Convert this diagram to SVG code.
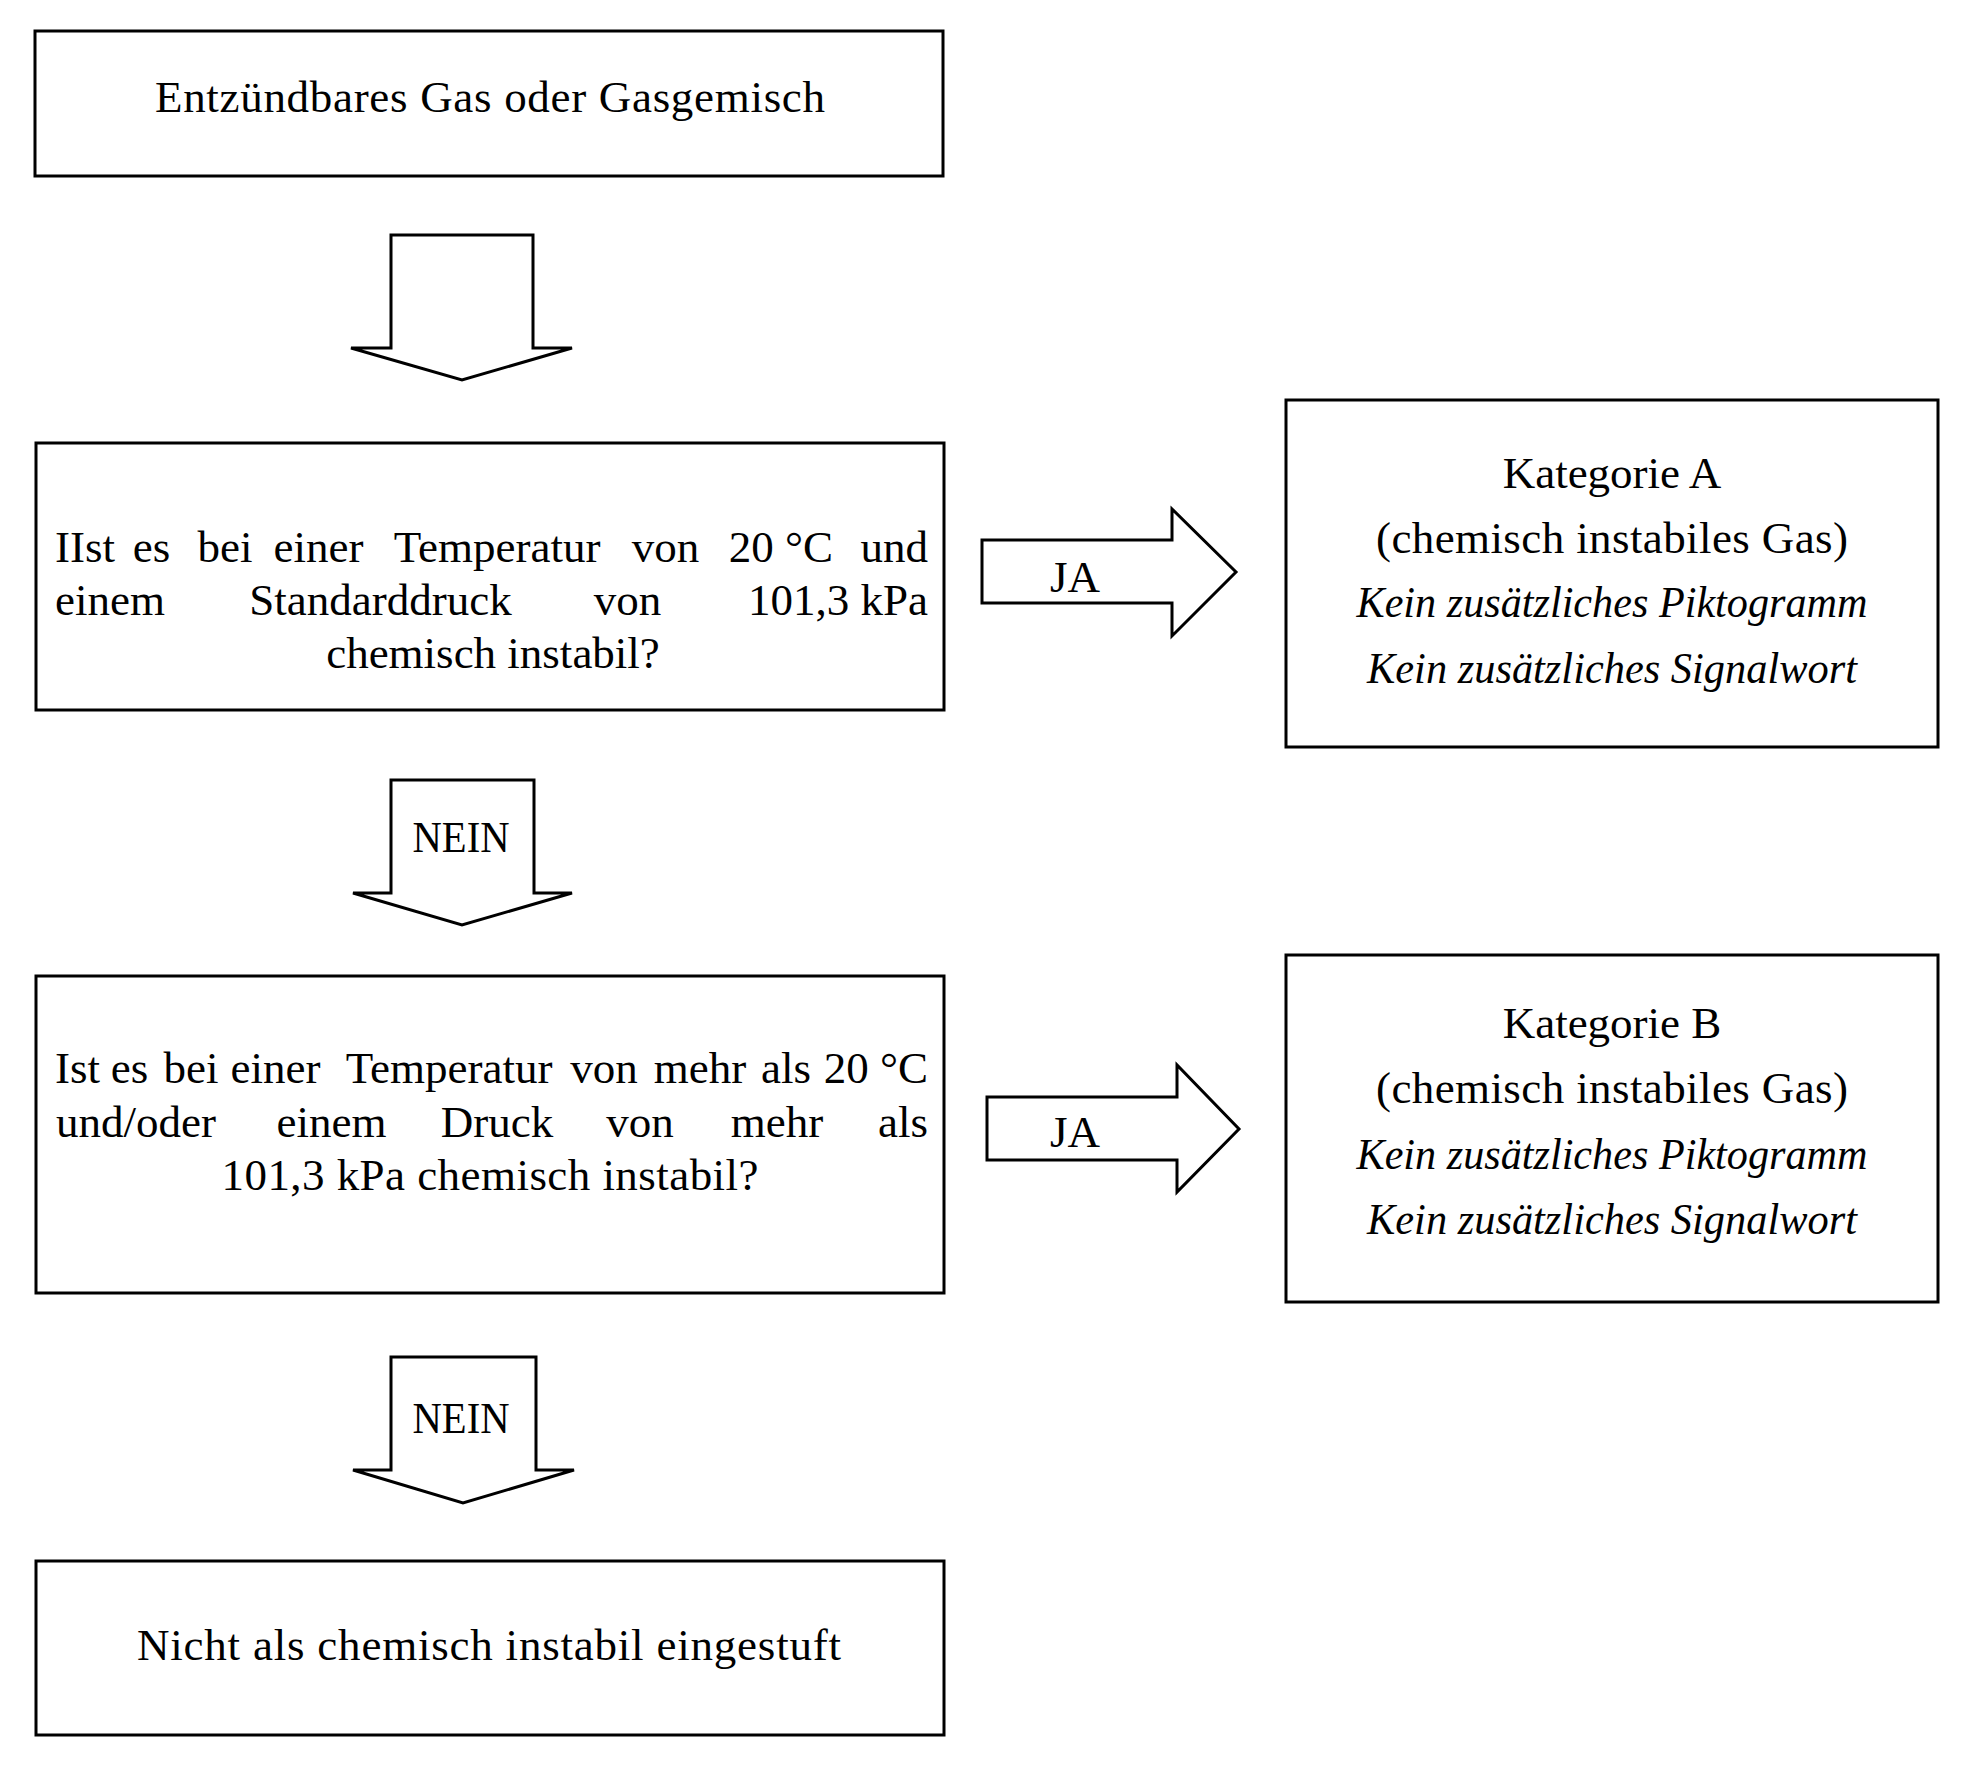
<svg xmlns="http://www.w3.org/2000/svg" width="1967" height="1783" viewBox="0 0 1967 1783">
<style>
.box{fill:#fff;stroke:#000;stroke-width:3}
.arr{fill:#fff;stroke:#000;stroke-width:3;stroke-linejoin:miter}
text{font-family:"Liberation Serif","Times New Roman",serif;font-size:45px;fill:#000}
.c{text-anchor:middle}
.m{text-anchor:middle}
.e{text-anchor:end}
.s{text-anchor:start}
.i{font-style:italic}
</style>
<rect width="1967" height="1783" fill="#fff"/>
<g id="start">
<rect class="box" x="35" y="31" width="908" height="145"/>
<text class="c" x="490" y="112" textLength="670" lengthAdjust="spacing">Entzündbares Gas oder Gasgemisch</text>
</g>
<g id="q1">
<rect class="box" x="36" y="443" width="908" height="267"/>
<text y="562"><tspan class="s" x="55">IIst</tspan><tspan class="m" x="151.5">es</tspan><tspan class="m" x="225">bei</tspan><tspan class="m" x="318.5">einer</tspan><tspan class="m" x="497">Temperatur</tspan><tspan class="m" x="665.5">von</tspan><tspan class="m" x="781">20 °C</tspan><tspan class="e" x="928">und</tspan></text>
<text y="615"><tspan class="s" x="55">einem</tspan><tspan class="m" x="380.5">Standarddruck</tspan><tspan class="m" x="627.5">von</tspan><tspan class="e" x="928">101,3 kPa</tspan></text>
<text class="c" x="493" y="668">chemisch instabil?</text>
</g>
<g id="catA">
<rect class="box" x="1286" y="400" width="652" height="347"/>
<text class="c" x="1612" y="488">Kategorie A</text>
<text class="c" x="1612" y="553" textLength="472" lengthAdjust="spacing">(chemisch instabiles Gas)</text>
<text class="c i" x="1612" y="617" textLength="511" lengthAdjust="spacingAndGlyphs">Kein zusätzliches Piktogramm</text>
<text class="c i" x="1612" y="683" textLength="490" lengthAdjust="spacingAndGlyphs">Kein zusätzliches Signalwort</text>
</g>
<g id="q2">
<rect class="box" x="36" y="976" width="908" height="317"/>
<text y="1083"><tspan class="s" x="55">Ist</tspan><tspan class="m" x="129.5">es</tspan><tspan class="m" x="191">bei</tspan><tspan class="m" x="275.5">einer</tspan><tspan class="m" x="449">Temperatur</tspan><tspan class="m" x="604">von</tspan><tspan class="m" x="700">mehr</tspan><tspan class="m" x="786">als</tspan><tspan class="e" x="928">20 °C</tspan></text>
<text y="1137"><tspan class="s" x="56">und/oder</tspan><tspan class="m" x="331.5">einem</tspan><tspan class="m" x="497">Druck</tspan><tspan class="m" x="640">von</tspan><tspan class="m" x="777">mehr</tspan><tspan class="e" x="928">als</tspan></text>
<text class="c" x="490" y="1190" textLength="537" lengthAdjust="spacing">101,3 kPa chemisch instabil?</text>
</g>
<g id="catB">
<rect class="box" x="1286" y="955" width="652" height="347"/>
<text class="c" x="1612" y="1038">Kategorie B</text>
<text class="c" x="1612" y="1103" textLength="472" lengthAdjust="spacing">(chemisch instabiles Gas)</text>
<text class="c i" x="1612" y="1169" textLength="511" lengthAdjust="spacingAndGlyphs">Kein zusätzliches Piktogramm</text>
<text class="c i" x="1612" y="1234" textLength="490" lengthAdjust="spacingAndGlyphs">Kein zusätzliches Signalwort</text>
</g>
<g id="end">
<rect class="box" x="36" y="1561" width="908" height="174"/>
<text class="c" x="489" y="1660" textLength="704" lengthAdjust="spacing">Nicht als chemisch instabil eingestuft</text>
</g>
<g id="connectors">
<path class="arr" d="M391,235 H533 V348 H572 L462,380 L351,348 H391 Z"/>
<path class="arr" d="M391,780 H534 V893 H572 L462,925 L353,893 H391 Z"/>
<text class="c" x="461" y="852" textLength="97" lengthAdjust="spacingAndGlyphs">NEIN</text>
<path class="arr" d="M982,540 H1172 V509 L1236,572 L1172,636 V603 H982 Z"/>
<text x="1050" y="592">JA</text>
<path class="arr" d="M987,1097 H1177 V1065 L1239,1129 L1177,1192 V1160 H987 Z"/>
<text x="1050" y="1147">JA</text>
<path class="arr" d="M391,1357 H536 V1470 H574 L463,1503 L353,1470 H391 Z"/>
<text class="c" x="461" y="1433" textLength="97" lengthAdjust="spacingAndGlyphs">NEIN</text>
</g>
</svg>
